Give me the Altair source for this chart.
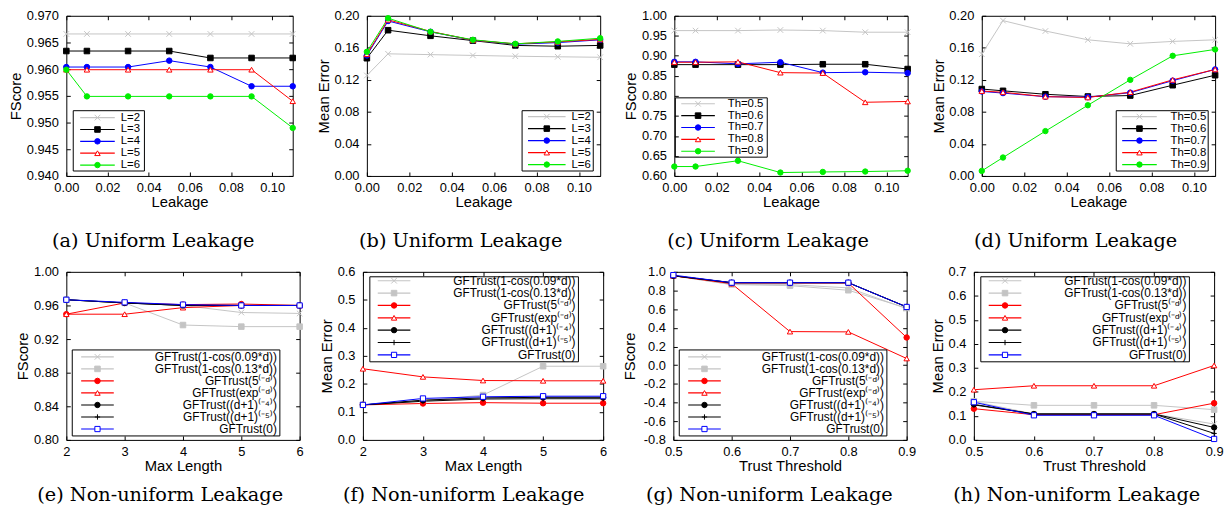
import altair as alt
import pandas as pd

# ---------------- data ----------------
LEAK = [0.00, 0.01, 0.03, 0.05, 0.07, 0.09, 0.11]
MAXLEN = [2, 3, 4, 5, 6]
TH = [0.5, 0.6, 0.7, 0.8, 0.9]

L_LABELS = ["L=2", "L=3", "L=4", "L=5", "L=6"]
TH_LABELS = ["Th=0.5", "Th=0.6", "Th=0.7", "Th=0.8", "Th=0.9"]
GF_LABELS = ["GFTrust(1-cos(0.09*d))", "GFTrust(1-cos(0.13*d))", "GFTrust(5⁽⁻ᵈ⁾)",
             "GFTrust(exp⁽⁻ᵈ⁾)", "GFTrust((d+1)⁽⁻⁴⁾)", "GFTrust((d+1)⁽⁻⁵⁾)", "GFTrust(0)"]

# (a) FScore vs leakage, by L
A_L2 = [0.9666, 0.9666, 0.9666, 0.9666, 0.9666, 0.9666, 0.9666]
A_L3 = [0.9634, 0.9634, 0.9634, 0.9634, 0.9621, 0.9621, 0.9621]
A_L4 = [0.9604, 0.9604, 0.9604, 0.9616, 0.9604, 0.9568, 0.9568]
A_L5 = [0.9599, 0.9599, 0.9599, 0.9599, 0.9599, 0.9599, 0.9540]
A_L6 = [0.9599, 0.9549, 0.9549, 0.9549, 0.9549, 0.9549, 0.9490]
# (b) Mean error vs leakage, by L
B_L2 = [0.1255, 0.1525, 0.1515, 0.1505, 0.1495, 0.1488, 0.1482]
B_L3 = [0.1470, 0.1820, 0.1750, 0.1690, 0.1630, 0.1620, 0.1630]
B_L4 = [0.1505, 0.1935, 0.1800, 0.1695, 0.1645, 0.1665, 0.1700]
B_L5 = [0.1520, 0.1950, 0.1805, 0.1695, 0.1650, 0.1675, 0.1705]
B_L6 = [0.1550, 0.1970, 0.1800, 0.1700, 0.1650, 0.1680, 0.1720]
# (c) FScore vs leakage, by threshold
C_T5 = [0.963, 0.963, 0.963, 0.9645, 0.963, 0.959, 0.959]
C_T6 = [0.878, 0.878, 0.878, 0.878, 0.879, 0.879, 0.867]
C_T7 = [0.885, 0.885, 0.880, 0.884, 0.858, 0.859, 0.857]
C_T8 = [0.884, 0.884, 0.885, 0.858, 0.857, 0.784, 0.786]
C_T9 = [0.6235, 0.6235, 0.638, 0.6085, 0.610, 0.611, 0.613]
# (d) Mean error vs leakage, by threshold
D_T5 = [0.152, 0.194, 0.181, 0.170, 0.165, 0.168, 0.170]
D_T6 = [0.1085, 0.1063, 0.1020, 0.0992, 0.1004, 0.1133, 0.1258]
D_T7 = [0.1055, 0.1035, 0.0990, 0.0984, 0.1040, 0.1190, 0.1330]
D_T8 = [0.1060, 0.1045, 0.0990, 0.0980, 0.1047, 0.1200, 0.1330]
D_T9 = [0.0063, 0.0230, 0.0560, 0.0883, 0.1200, 0.1500, 0.1580]
# (e) FScore vs max length
E_C09 = [0.9668, 0.9629, 0.9600, 0.9516, 0.9505]
E_C13 = [0.9668, 0.9630, 0.9367, 0.9348, 0.9348]
E_P5 = [0.9496, 0.9630, 0.9610, 0.9617, 0.9600]
E_EXP = [0.9496, 0.9496, 0.9574, 0.9600, 0.9600]
E_D4 = [0.9668, 0.9630, 0.9600, 0.9600, 0.9600]
E_D5 = [0.9668, 0.9630, 0.9600, 0.9600, 0.9600]
E_G0 = [0.9668, 0.9637, 0.9610, 0.9600, 0.9600]
# (f) Mean error vs max length
F_C09 = [0.125, 0.140, 0.150, 0.152, 0.152]
F_C13 = [0.125, 0.140, 0.160, 0.263, 0.263]
F_P5 = [0.125, 0.130, 0.133, 0.131, 0.131]
F_EXP = [0.254, 0.225, 0.212, 0.211, 0.211]
F_D4 = [0.125, 0.142, 0.150, 0.152, 0.152]
F_D5 = [0.125, 0.138, 0.146, 0.147, 0.147]
F_G0 = [0.125, 0.148, 0.154, 0.156, 0.156]
# (g) FScore vs trust threshold
G_C09 = [0.958, 0.863, 0.863, 0.828, 0.606]
G_C13 = [0.958, 0.865, 0.852, 0.803, 0.613]
G_P5 = [0.958, 0.880, 0.880, 0.880, 0.297]
G_EXP = [0.958, 0.873, 0.360, 0.357, 0.072]
G_D4 = [0.958, 0.884, 0.884, 0.884, 0.624]
G_D5 = [0.958, 0.884, 0.884, 0.884, 0.624]
G_G0 = [0.965, 0.884, 0.884, 0.884, 0.624]
# (h) Mean error vs trust threshold
H_C09 = [0.160, 0.108, 0.108, 0.108, 0.066]
H_C13 = [0.161, 0.144, 0.144, 0.144, 0.126]
H_P5 = [0.130, 0.105, 0.105, 0.105, 0.153]
H_EXP = [0.209, 0.2255, 0.2255, 0.2255, 0.310]
H_D4 = [0.148, 0.108, 0.108, 0.108, 0.052]
H_D5 = [0.146, 0.108, 0.108, 0.108, 0.027]
H_G0 = [0.157, 0.1025, 0.1025, 0.1025, 0.004]

# tick values
LEAK_TICKS = [0.00, 0.02, 0.04, 0.06, 0.08, 0.10]
A_YT = [0.940, 0.945, 0.950, 0.955, 0.960, 0.965, 0.970]
BD_YT = [0.00, 0.04, 0.08, 0.12, 0.16, 0.20]
C_YT = [0.60, 0.65, 0.70, 0.75, 0.80, 0.85, 0.90, 0.95, 1.00]
E_YT = [0.80, 0.84, 0.88, 0.92, 0.96, 1.00]
F_YT = [0.0, 0.1, 0.2, 0.3, 0.4, 0.5, 0.6]
G_YT = [-0.8, -0.6, -0.4, -0.2, 0.0, 0.2, 0.4, 0.6, 0.8, 1.0]
H_YT = [0.0, 0.1, 0.2, 0.3, 0.4, 0.5, 0.6, 0.7]

# ---------------- styles ----------------
GRAY = "#c4c4c4"
BLACK = "#000000"
BLUE = "#0000ff"
RED = "#ff0000"
GREEN = "#00ee00"
X_PATH = "M-1,-1L1,1M-1,1L1,-1"
PLUS_PATH = "M-1,0L1,0M0,-1L0,1"
STYLES = {
    "gx": (GRAY, X_PATH, "transparent", 32),
    "gsq": (GRAY, "square", GRAY, 28),
    "ksq": (BLACK, "square", BLACK, 30),
    "bc": (BLUE, "circle", BLUE, 26),
    "rc": (RED, "circle", RED, 26),
    "rt": (RED, "triangle-up", "white", 36),
    "gd": (GREEN, "circle", GREEN, 12),
    "kd": (BLACK, "circle", BLACK, 14),
    "kp": (BLACK, PLUS_PATH, "transparent", 32),
    "bos": (BLUE, "square", "white", 30),
}
ROW1_STY = ["gx", "ksq", "bc", "rt", "gd"]
ROW2_STY = ["gx", "gsq", "rc", "rt", "kd", "kp", "bos"]

FONT = "Liberation Sans"
H1 = 162
H2 = 170
CHANNELS = dict(color="independent", shape="independent", fill="independent",
                stroke="independent", size="independent")


def panel(pid, x, series, labels, sty, xdom, xticks, xfmt, xtitle, ydom, yticks, yfmt, ytitle,
          width, height, yext, leg, caption, cap_off):
    names = ["%s%d" % (pid, i) for i in range(len(series))]
    recs = []
    for n, vals in zip(names, series):
        for xv, yv in zip(x, vals):
            recs.append({"series": n, "x": xv, "y": yv})
    df = pd.DataFrame(recs)
    ldf = pd.DataFrame({"series": names, "row": list(range(len(names))), "label": labels})

    color_s = alt.Scale(domain=names, range=[STYLES[k][0] for k in sty])
    shape_s = alt.Scale(domain=names, range=[STYLES[k][1] for k in sty])
    fill_s = alt.Scale(domain=names, range=[STYLES[k][2] for k in sty])
    size_s = alt.Scale(domain=names, range=[STYLES[k][3] for k in sty])
    xs = alt.Scale(domain=xdom, nice=False, zero=False)
    ys = alt.Scale(domain=ydom, nice=False, zero=False)

    lines = alt.Chart(df).mark_line(strokeWidth=1).encode(
        x=alt.X("x:Q", scale=xs, axis=alt.Axis(
            orient="bottom", values=xticks, format=xfmt, title=xtitle, offset=-4, tickSize=4,
            labelPadding=6, titlePadding=0, domain=False, grid=False, labelFlush=False,
            labelOverlap=False, minExtent=23, maxExtent=23)),
        y=alt.Y("y:Q", scale=ys, axis=alt.Axis(
            orient="left", values=yticks, format=yfmt, title=ytitle, offset=-4, tickSize=4,
            labelPadding=8, titlePadding=3, domain=False, grid=False, labelOverlap=False,
            minExtent=yext, maxExtent=yext, labelExpr="replace(datum.label, '−', '-')")),
        color=alt.Color("series:N", scale=color_s, legend=None),
    )
    points = alt.Chart(df).mark_point(opacity=1, strokeWidth=1, filled=False).encode(
        x=alt.X("x:Q", scale=xs, axis=alt.Axis(
            orient="top", values=xticks, labels=False, title=None, offset=-4, tickSize=4,
            domain=False, grid=False)),
        y=alt.Y("y:Q", scale=ys, axis=alt.Axis(
            orient="right", values=yticks, labels=False, title=None, offset=-4, tickSize=4,
            domain=False, grid=False)),
        shape=alt.Shape("series:N", scale=shape_s, legend=None),
        fill=alt.Fill("series:N", scale=fill_s, legend=None),
        stroke=alt.Stroke("series:N", scale=color_s, legend=None),
        size=alt.Size("series:O", scale=size_s, legend=None),
    )

    (bx0, by0, bx1, by1), (r0, r1), (lx0, lx1), (tx, talign, tfs) = leg
    ly = alt.Y("row:Q", scale=alt.Scale(domain=[0, len(names) - 1], range=[r0, r1],
                                        nice=False, zero=False), axis=None)
    box = alt.Chart(pd.DataFrame({"k": [0]})).mark_rect(
        fill="transparent", stroke="black", strokeWidth=1).encode(
        x=alt.value(bx0), x2=alt.value(bx1), y=alt.value(by0), y2=alt.value(by1))
    lrules = alt.Chart(ldf).mark_rule(strokeWidth=1.2).encode(
        x=alt.value(lx0), x2=alt.value(lx1), y=ly,
        color=alt.Color("series:N", scale=color_s, legend=None))
    lpts = alt.Chart(ldf).mark_point(opacity=1, strokeWidth=1, filled=False).encode(
        x=alt.value((lx0 + lx1) / 2), y=ly,
        shape=alt.Shape("series:N", scale=shape_s, legend=None),
        fill=alt.Fill("series:N", scale=fill_s, legend=None),
        stroke=alt.Stroke("series:N", scale=color_s, legend=None),
        size=alt.Size("series:O", scale=size_s, legend=None),
    )
    ltext = alt.Chart(ldf).mark_text(align=talign, baseline="middle", font=FONT,
                                      fontSize=tfs, color="black").encode(
        x=alt.value(tx), y=ly, text="label:N")

    return alt.layer(lines, points, box, lrules, lpts, ltext).resolve_scale(
        y="independent").resolve_axis(x="independent", y="independent").properties(
        width=width, height=height,
        title=alt.TitleParams(text=caption, orient="bottom", anchor="middle", frame="bounds",
                              font="DejaVu Serif", fontSize=19.5, fontWeight="normal",
                              color="black", offset=cap_off, baseline="top"))


LEG_A = ((7, 96, 79, 157), (103, 151), (14, 49), (55, "left", 11.5))
LEG_B = ((157, 96, 229, 157), (102, 150.5), (163, 201), (207, "left", 11.5))
LEG_C = ((1, 83, 94, 143), (89, 137), (7, 41), (54, "left", 11.5))
LEG_D = ((136, 96, 229, 157), (102, 150.5), (142, 177), (191, "left", 11.5))
LEG_E = ((6, 79, 216, 166), (86, 159), (15, 48), (213, "right", 12))
LEG_F = ((7, 5, 218, 91), (9, 84), (15, 48), (215, "right", 12))

CAP1 = 23
CAP2 = 13

pa = panel("a", LEAK, [A_L2, A_L3, A_L4, A_L5, A_L6], L_LABELS, ROW1_STY, [0, 0.11], LEAK_TICKS,
           ".2f", "Leakage", [0.94, 0.97], A_YT, ".3f", "FScore", 229, H1, 44, LEG_A,
           "(a) Uniform Leakage", CAP1)
pb = panel("b", LEAK, [B_L2, B_L3, B_L4, B_L5, B_L6], L_LABELS, ROW1_STY, [0, 0.11], LEAK_TICKS,
           ".2f", "Leakage", [0, 0.2], BD_YT, ".2f", "Mean Error", 236, H1, 37, LEG_B,
           "(b) Uniform Leakage", CAP1)
pc = panel("c", LEAK, [C_T5, C_T6, C_T7, C_T8, C_T9], TH_LABELS, ROW1_STY, [0, 0.11], LEAK_TICKS,
           ".2f", "Leakage", [0.6, 1.0], C_YT, ".2f", "FScore", 236, H1, 37, LEG_C,
           "(c) Uniform Leakage", CAP1)
pd_ = panel("d", LEAK, [D_T5, D_T6, D_T7, D_T8, D_T9], TH_LABELS, ROW1_STY, [0, 0.11], LEAK_TICKS,
            ".2f", "Leakage", [0, 0.2], BD_YT, ".2f", "Mean Error", 236, H1, 37, LEG_D,
            "(d) Uniform Leakage", CAP1)

pe = panel("e", MAXLEN, [E_C09, E_C13, E_P5, E_EXP, E_D4, E_D5, E_G0], GF_LABELS, ROW2_STY,
           [2, 6], MAXLEN, "d", "Max Length", [0.8, 1.0], E_YT, ".2f", "FScore", 236, H2, 37,
           LEG_E, "(e) Non-uniform Leakage", CAP2)
pf = panel("f", MAXLEN, [F_C09, F_C13, F_P5, F_EXP, F_D4, F_D5, F_G0], GF_LABELS, ROW2_STY,
           [2, 6], MAXLEN, "d", "Max Length", [0, 0.6], F_YT, ".1f", "Mean Error", 243, H2, 30,
           LEG_F, "(f) Non-uniform Leakage", CAP2)
pg = panel("g", TH, [G_C09, G_C13, G_P5, G_EXP, G_D4, G_D5, G_G0], GF_LABELS, ROW2_STY,
           [0.5, 0.9], TH, ".1f", "Trust Threshold", [-0.8, 1.0], G_YT, ".1f", "FScore", 236, H2,
           37, LEG_E, "(g) Non-uniform Leakage", CAP2)
ph = panel("h", TH, [H_C09, H_C13, H_P5, H_EXP, H_D4, H_D5, H_G0], GF_LABELS, ROW2_STY,
           [0.5, 0.9], TH, ".1f", "Trust Threshold", [0, 0.7], H_YT, ".1f", "Mean Error", 243, H2,
           30, LEG_F, "(h) Non-uniform Leakage", CAP2)

row1 = alt.hconcat(pa, pb, pc, pd_, spacing=17).resolve_scale(**CHANNELS)
row2 = alt.hconcat(pe, pf, pg, ph, spacing=13).resolve_scale(**CHANNELS)

chart = alt.vconcat(row1, row2, spacing=14).resolve_scale(**CHANNELS).properties(
    padding={"left": 0, "top": -2, "right": 0, "bottom": 0}, background="white"
).configure_view(stroke="black", strokeWidth=1).configure_axis(
    labelFont=FONT, labelFontSize=13, labelColor="black",
    titleFont=FONT, titleFontSize=15, titleFontWeight="normal", titleColor="black",
    tickColor="black", tickWidth=1,
)

chart.save("out.html", embed_options={"renderer": "svg", "actions": False})
